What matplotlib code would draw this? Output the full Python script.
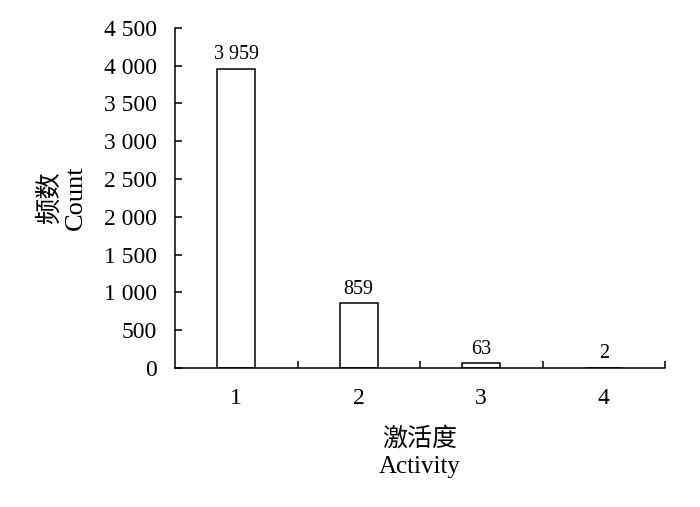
import matplotlib
matplotlib.use("Agg")
import matplotlib.pyplot as plt
from matplotlib.ticker import FuncFormatter, FixedLocator

categories = ["1", "2", "3", "4"]
counts = [3959, 859, 63, 2]
bar_labels = ["3 959", "859", "63", "2"]

plt.rcParams["font.family"] = ["Liberation Serif", "Noto Sans CJK SC"]


def main() -> None:
    fig = plt.figure(figsize=(7.0, 5.07), dpi=100, facecolor="white")
    ax = fig.add_axes([0.25, 0.274, 0.70, 0.671])

    x = list(range(1, len(categories) + 1))
    bars = ax.bar(x, counts, width=0.31, color="white", edgecolor="black", linewidth=1.1)

    for rect, lab in zip(bars, bar_labels):
        ax.text(rect.get_x() + rect.get_width() / 2, rect.get_height() + 60, lab,
                ha="center", va="bottom", fontsize=14.5)

    ax.set_xlim(0.5, 4.5)
    ax.set_ylim(0, 4500)
    ax.set_yticks(range(0, 4501, 500))
    ax.yaxis.set_major_formatter(FuncFormatter(lambda v, p: f"{int(v):,}".replace(",", " ")))

    ax.set_xticks(x)
    ax.set_xticklabels(categories)
    ax.xaxis.set_minor_locator(FixedLocator([1.5, 2.5, 3.5, 4.5]))
    ax.tick_params(axis="x", which="major", length=0, pad=14, labelsize=17)
    ax.tick_params(axis="x", which="minor", direction="in", length=5, width=1.1)
    ax.tick_params(axis="y", direction="in", length=5, width=1.1, pad=13, labelsize=17)

    for side in ("top", "right"):
        ax.spines[side].set_visible(False)
    for side in ("left", "bottom"):
        ax.spines[side].set_linewidth(1.1)

    ax.set_ylabel("频数\nCount", fontsize=19, labelpad=12, linespacing=1.2)
    ax.set_xlabel("激活度\nActivity", fontsize=18, labelpad=13, linespacing=1.35)

    fig.savefig("out.png", dpi=100, facecolor="white")


if __name__ == "__main__":
    main()
